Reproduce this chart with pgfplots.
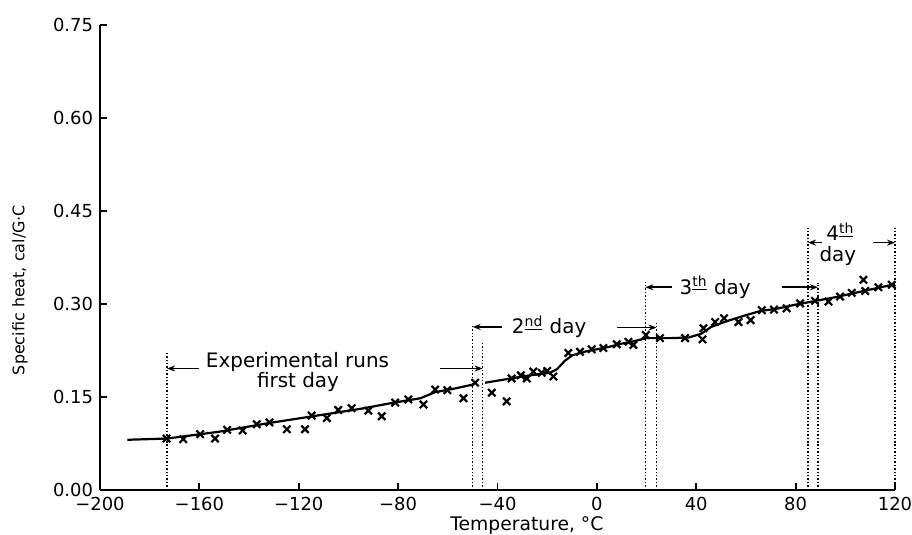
\documentclass[border=0pt]{standalone}
\usepackage{fontspec}
\setmainfont{DejaVu Sans}
\usepackage{pgfplots}
\pgfplotsset{compat=1.18}
\usetikzlibrary{arrows.meta}

\begin{document}
\begin{tikzpicture}
\begin{axis}[
    scale only axis,
    width=397.5bp, height=232.5bp,
    xmin=-200, xmax=120, ymin=0, ymax=0.75,
    axis x line*=bottom, axis y line*=left,
    axis line style={line width=1bp},
    tick align=inside,
    major tick length=3.5bp,
    tick style={black, line width=0.9bp},
    xtick={-200,-160,-120,-80,-40,0,40,80,120},
    xticklabels={−200,−160,−120,−80,−40,0,40,80,120},
    ytick={0,0.15,0.30,0.45,0.60,0.75},
    yticklabels={0.00,0.15,0.30,0.45,0.60,0.75},
    ticklabel style={font=\fontsize{9}{10}\selectfont},
    xlabel={Temperature, °C},
    ylabel={Specific heat, cal/G·C},
    xlabel style={at={(axis description cs:0.537,-0.076)}, anchor=center, font=\fontsize{9.4}{11}\selectfont},
    ylabel style={at={(axis description cs:-0.1006,0.43)}, anchor=center, font=\fontsize{8}{10}\selectfont},
    clip=false,
]
% smooth curve, drawn in two pieces
\addplot[black, line width=1.1bp] coordinates {
    (-189,0.081) (-173,0.083) (-152,0.094) (-132,0.108) (-111,0.121)
    (-95,0.131) (-83,0.140) (-71,0.148) (-65,0.158) (-58,0.163) (-50,0.170)
};
\addplot[black, line width=1.1bp] coordinates {
    (-45,0.173) (-36,0.179) (-30,0.183) (-25,0.186) (-19,0.189) (-16,0.195)
    (-13,0.208) (-10,0.217) (-5,0.223) (0,0.227) (5,0.231) (10,0.236)
    (15,0.240) (20,0.245) (30,0.245) (37,0.246) (42,0.252) (46,0.263)
    (52,0.272) (60,0.282) (66,0.289) (72,0.292) (80,0.299) (88,0.305)
    (96,0.311) (104,0.318) (112,0.325) (120,0.332)
};
% experimental runs
\addplot[only marks, mark=x, mark size=2.6bp, black, line width=1.1bp] coordinates {
    (-173.2,0.083) (-166.5,0.082) (-159.7,0.090) (-153.7,0.083) (-148.8,0.097)
    (-142.6,0.096) (-136.9,0.106) (-131.8,0.109) (-124.8,0.098) (-117.5,0.098)
    (-114.8,0.120) (-108.7,0.116) (-104.1,0.129) (-98.7,0.132) (-92.0,0.128)
    (-86.6,0.119) (-81.2,0.141) (-75.9,0.146) (-69.8,0.138) (-65.1,0.162)
    (-60.2,0.161) (-53.7,0.148) (-49.0,0.173) (-42.3,0.157) (-36.3,0.143)
    (-34.3,0.180) (-30.6,0.185) (-28.2,0.180) (-25.6,0.191) (-22.2,0.189)
    (-20.0,0.192) (-17.5,0.183) (-11.5,0.221) (-6.8,0.223) (-2.1,0.227)
    (2.6,0.229) (8.0,0.235) (12.7,0.239) (14.7,0.234) (19.7,0.250)
    (25.4,0.245) (35.5,0.245) (42.9,0.261) (42.5,0.243) (47.6,0.271)
    (51.2,0.277) (57.0,0.271) (61.9,0.274) (66.4,0.290) (71.3,0.291)
    (76.4,0.293) (81.8,0.301) (87.8,0.305) (93.2,0.304) (97.9,0.312)
    (102.6,0.318) (107.3,0.339) (108.0,0.321) (113.3,0.327) (118.7,0.331)
};
% day boundaries
\draw[densely dotted, line width=0.7bp] (-173,0) -- (-173,0.223);
\draw[densely dotted, line width=0.7bp] (-50,0) -- (-50,0.266);
\draw[densely dotted, line width=0.7bp] (-46,0) -- (-46,0.240);
\draw[densely dotted, line width=0.7bp] (19.5,0) -- (19.5,0.336);
\draw[densely dotted, line width=0.7bp] (24,0) -- (24,0.270);
\draw[densely dotted, line width=0.7bp] (85,0) -- (85,0.423);
\draw[densely dotted, line width=0.7bp] (89,0) -- (89,0.334);
\draw[densely dotted, line width=0.7bp] (120,0) -- (120,0.423);
% arrows
\tikzset{dayarrow/.style={line width=0.8bp, -{Stealth[length=4bp,width=3bp]}}}
\draw[dayarrow] (-160,0.196) -- (-173,0.196);
\draw[dayarrow] (-63,0.196) -- (-46,0.196);
\draw[dayarrow] (-38.3,0.263) -- (-50,0.263);
\draw[dayarrow] (8,0.262) -- (24,0.262);
\draw[dayarrow] (30.1,0.327) -- (19.5,0.327);
\draw[dayarrow] (74.4,0.327) -- (89,0.327);
\draw[dayarrow] (90.5,0.399) -- (85,0.399);
\draw[dayarrow] (111.3,0.399) -- (120,0.399);
% labels
\node[font=\fontsize{10}{11}\selectfont] at (-120.5,0.207) {Experimental runs};
\node[font=\fontsize{10}{11}\selectfont] at (-120.3,0.175) {first day};
\node[font=\fontsize{10}{11}\selectfont, anchor=west] at (-37,0.263) {2\textsuperscript{\underline{nd}} day};
\node[font=\fontsize{10}{11}\selectfont, anchor=west] at (30.5,0.327) {3\textsuperscript{\underline{th}} day};
\node[font=\fontsize{10}{11}\selectfont, inner sep=0pt] at (98,0.416) {4\textsuperscript{\underline{th}}};
\node[font=\fontsize{10}{11}\selectfont, inner sep=0pt] at (97,0.378) {day};
\end{axis}
\pgfresetboundingbox
\path (-50bp,-22.5bp) rectangle (406bp,245bp);
\end{tikzpicture}
\end{document}
